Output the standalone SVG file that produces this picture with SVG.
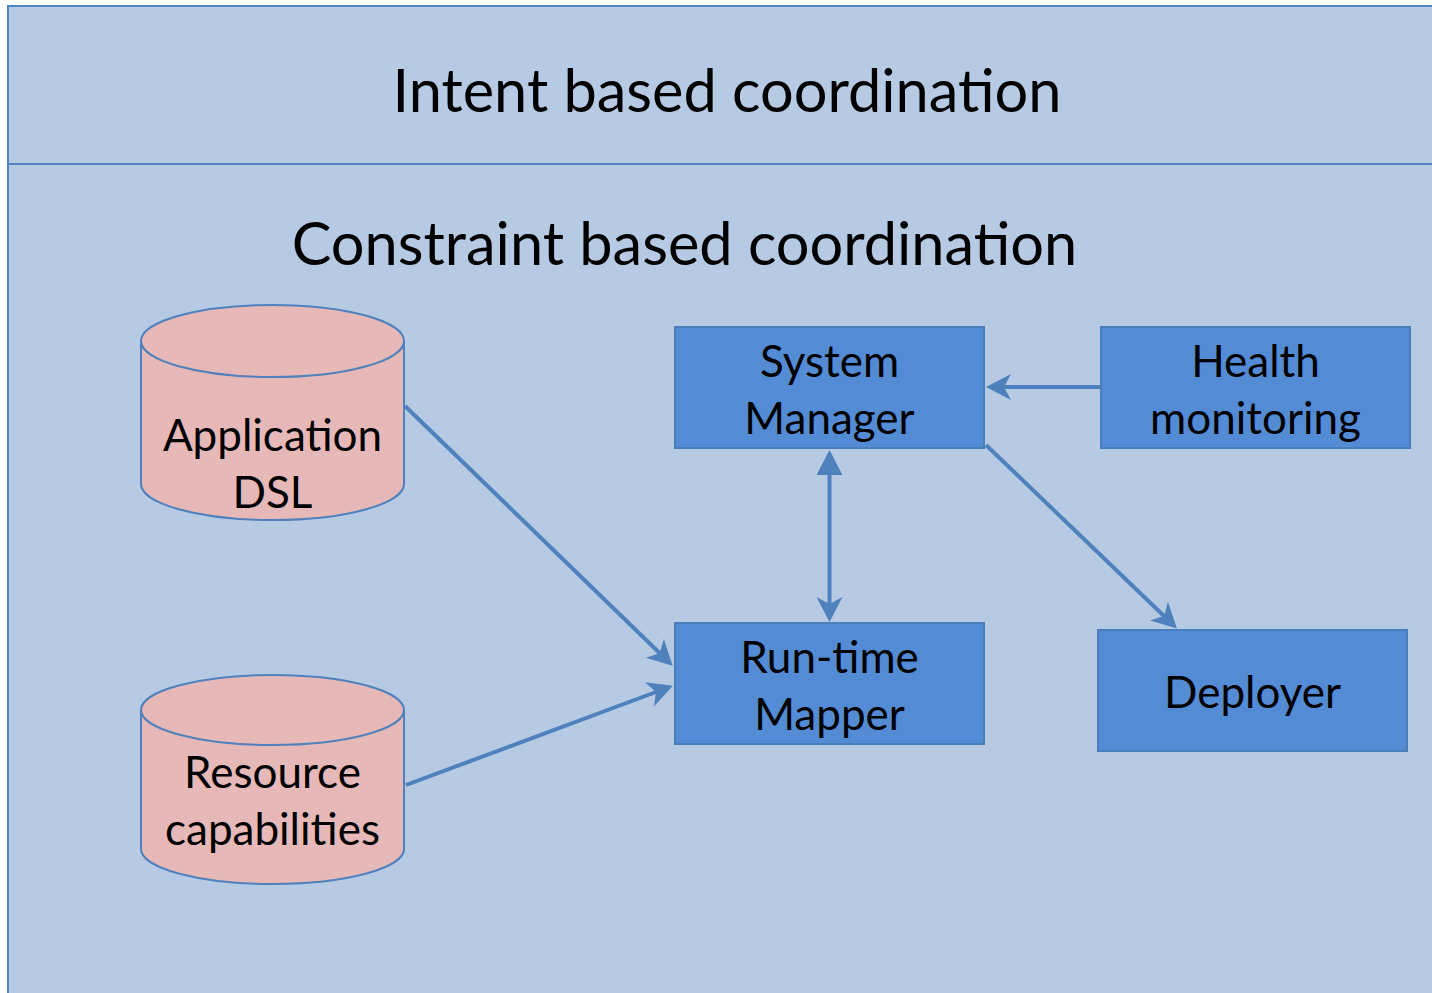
<svg xmlns="http://www.w3.org/2000/svg" width="1432" height="993" viewBox="0 0 1432 993">
<style>
.bg{fill:#b7cae4;stroke:#5283c4;stroke-width:2}
.box{fill:#538bd4;stroke:#4a7ebb;stroke-width:2}
.cyl{fill:#e6b8b7;stroke:#4f81bd;stroke-width:2}
.t{font-family:Lato,"Noto Sans",sans-serif;fill:#000;text-anchor:middle}
.big{font-size:59.5px}
.lbl{font-size:44px}
.ln{stroke:#4f81bd;stroke-width:4;fill:none}
</style>
<defs>
<marker id="stealth" viewBox="0 0 28 28" markerUnits="userSpaceOnUse" markerWidth="28" markerHeight="28" refX="8" refY="14" orient="auto">
<path d="M26,14 L1,1 L8,14 L1,27 Z" fill="#4f81bd"/>
</marker>
<marker id="tri" viewBox="0 0 26 26" markerUnits="userSpaceOnUse" markerWidth="26" markerHeight="26" refX="0" refY="13" orient="auto-start-reverse">
<path d="M25,13 L0,0 L0,26 Z" fill="#4f81bd"/>
</marker>
</defs>
<g id="intent-layer">
<rect class="bg" x="8" y="6" width="1440" height="158"/>
<text class="t big" x="727" y="112">Intent based coordination</text>
</g>
<g id="constraint-layer">
<rect class="bg" x="8" y="164" width="1440" height="840"/>
<text class="t big" x="684.5" y="265">Constraint based coordination</text>
</g>
<g id="application-dsl">
<path class="cyl" d="M141,341 L141,484 A131.5,36 0 0 0 404,484 L404,341 A131.5,36 0 0 0 141,341 Z"/>
<path class="cyl" d="M141,341 A131.5,36 0 0 0 404,341" fill="none"/>
<text class="t lbl" x="272.5" y="451">Application</text>
<text class="t lbl" x="272.5" y="508">DSL</text>
</g>
<g id="resource-capabilities">
<path class="cyl" d="M141,710 L141,849 A131.5,35 0 0 0 404,849 L404,710 A131.5,35 0 0 0 141,710 Z"/>
<path class="cyl" d="M141,710 A131.5,35 0 0 0 404,710" fill="none"/>
<text class="t lbl" x="272.5" y="788">Resource</text>
<text class="t lbl" x="272.5" y="845">capabilities</text>
</g>
<g id="system-manager">
<rect class="box" x="675" y="327" width="309" height="121"/>
<text class="t lbl" x="829.5" y="377">System</text>
<text class="t lbl" x="829.5" y="434">Manager</text>
</g>
<g id="health-monitoring">
<rect class="box" x="1101" y="327" width="309" height="121"/>
<text class="t lbl" x="1255.5" y="377">Health</text>
<text class="t lbl" x="1255.5" y="434">monitoring</text>
</g>
<g id="runtime-mapper">
<rect class="box" x="675" y="623" width="309" height="121"/>
<text class="t lbl" x="829.5" y="673">Run-time</text>
<text class="t lbl" x="829.5" y="730">Mapper</text>
</g>
<g id="deployer">
<rect class="box" x="1098" y="630" width="309" height="121"/>
<text class="t lbl" x="1252.5" y="708">Deployer</text>
</g>
<g id="connectors">
<line class="ln" x1="405" y1="406" x2="659.8" y2="653.2" marker-end="url(#stealth)"/>
<line class="ln" x1="406" y1="785" x2="656" y2="692" marker-end="url(#stealth)"/>
<line class="ln" x1="1100" y1="387" x2="1004" y2="387" marker-end="url(#stealth)"/>
<line class="ln" x1="829.5" y1="475" x2="829.5" y2="604" marker-start="url(#tri)" marker-end="url(#stealth)"/>
<line class="ln" x1="986" y1="445" x2="1164" y2="616" marker-end="url(#stealth)"/>
</g>
</svg>
